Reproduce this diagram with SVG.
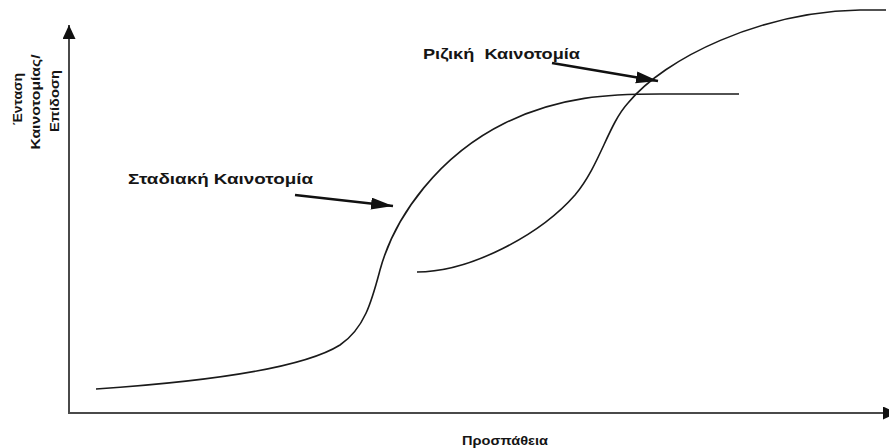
<svg xmlns="http://www.w3.org/2000/svg" width="889" height="448" viewBox="0 0 889 448">
<style>
.lbl{font-family:"Liberation Sans",Arial,sans-serif;font-weight:bold;fill:#151515}
.curve{fill:none;stroke:#1a1a1a;stroke-width:1.6}
.axis{fill:none;stroke:#4a4a4a;stroke-width:2}
.call{fill:none;stroke:#111;stroke-width:2.6}
</style>
<defs>
<marker id="ah" markerUnits="userSpaceOnUse" markerWidth="24" markerHeight="14" refX="22" refY="6" orient="auto">
<polygon points="0,0 22,6 0,12" fill="#111"/>
</marker>
<marker id="axh" markerUnits="userSpaceOnUse" markerWidth="16" markerHeight="14" refX="14" refY="6.5" orient="auto">
<polygon points="0,0 14,6.5 0,13" fill="#111"/>
</marker>
</defs>
<rect width="889" height="448" fill="#fff"/>
<g id="axes">
<path class="axis" d="M69,413 L69,25" marker-end="url(#axh)"/>
<path class="axis" d="M68,413 L897,413" marker-end="url(#axh)"/>
</g>
<g id="y-label" class="lbl" font-size="13" text-anchor="middle">
<text transform="translate(22,99) rotate(-90)" textLength="52" lengthAdjust="spacingAndGlyphs">Ένταση</text>
<text transform="translate(40,102) rotate(-90)" textLength="95" lengthAdjust="spacingAndGlyphs">Καινοτομίας/</text>
<text transform="translate(59,101) rotate(-90)" textLength="62" lengthAdjust="spacingAndGlyphs">Επίδοση</text>
</g>
<g id="x-label">
<text class="lbl" x="462" y="445" font-size="12" textLength="86" lengthAdjust="spacingAndGlyphs">Προσπάθεια</text>
</g>
<g id="incremental-curve">
<path class="curve" d="M96,389 C200,382 300,370 340,345 C365,328 372,300 380,270 C395,215 440,155 505,123 C560,96 610,94 660,94 L739,94"/>
</g>
<g id="radical-curve">
<path class="curve" d="M417,272 C470,272 540,235 575,195 C600,165 608,125 628,103 C665,58 760,12 860,10 L886,10"/>
</g>
<g id="incremental-label">
<text class="lbl" x="128" y="184" font-size="15" textLength="185" lengthAdjust="spacingAndGlyphs">Σταδιακή Καινοτομία</text>
</g>
<g id="radical-label">
<text class="lbl" x="423" y="59" font-size="15" textLength="157" lengthAdjust="spacingAndGlyphs" xml:space="preserve">Ριζική  Καινοτομία</text>
</g>
<g id="connectors">
<path class="call" d="M295,195 L393,206" marker-end="url(#ah)"/>
<path class="call" d="M552,63 L658,81" marker-end="url(#ah)"/>
</g>
</svg>
